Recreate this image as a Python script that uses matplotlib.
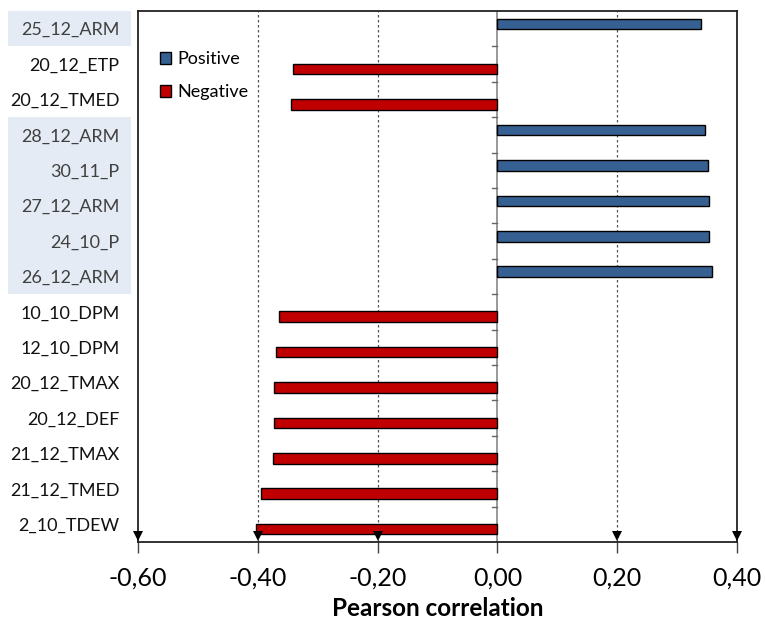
import matplotlib
matplotlib.use("Agg")
import matplotlib.pyplot as plt
from matplotlib.patches import Rectangle, Patch
import numpy as np

categories = ["25_12_ARM", "20_12_ETP", "20_12_TMED", "28_12_ARM", "30_11_P",
              "27_12_ARM", "24_10_P", "26_12_ARM", "10_10_DPM", "12_10_DPM",
              "20_12_TMAX", "20_12_DEF", "21_12_TMAX", "21_12_TMED", "2_10_TDEW"]
values = [0.340, -0.342, -0.344, 0.347, 0.351, 0.353, 0.354, 0.358,
          -0.365, -0.370, -0.373, -0.373, -0.374, -0.394, -0.403]
xticks = [-0.6, -0.4, -0.2, 0.0, 0.2, 0.4]
xtick_labels = ["-0,60", "-0,40", "-0,20", "0,00", "0,20", "0,40"]

BLUE = "#376092"
RED = "#C00000"
FONT = ["Lato", "DejaVu Sans"]
plt.rcParams["font.family"] = FONT

fig = plt.figure(figsize=(7.65, 6.3), dpi=100)
ax = fig.add_axes([138/765, 1-542/630, (737-138)/765, (542-11)/630])

n = len(categories)
h = 0.30
off = 0.135
for i, v in enumerate(values):
    if v > 0:
        ax.barh(i - off, v, height=h, color=BLUE, edgecolor="black", linewidth=1.0, zorder=3)
    else:
        ax.barh(i + off, v, height=h, color=RED, edgecolor="black", linewidth=1.0, zorder=3)

ax.set_xlim(-0.6, 0.4)
ax.set_ylim(n - 0.5, -0.5)

for xv in [-0.4, -0.2, 0.2]:
    ax.axvline(xv, color="#555555", linestyle=(0, (2, 2)), linewidth=0.9, zorder=1)
ax.axvline(0, color="#888888", linewidth=1.2, zorder=2)
for b in np.arange(0.5, n - 0.5, 1.0):
    ax.plot([-0.009, 0], [b, b], color="#666666", linewidth=1.0, zorder=2)

for s in ["top", "right", "left", "bottom"]:
    ax.spines[s].set_color("#222222")
    ax.spines[s].set_linewidth(1.3)

ax.set_yticks([])
ax.set_xticks(xticks)
ax.set_xticklabels(xtick_labels, fontsize=18)
ax.tick_params(axis="x", length=8, width=1.0, color="#444444", pad=10, direction="out")

tri_x = [-0.6, -0.4, -0.2, 0.2, 0.4]
ax.plot(tri_x, [n - 0.5 - 0.16] * len(tri_x), linestyle="none", marker="v", markersize=7,
        color="black", clip_on=False, zorder=5, markeredgewidth=0)

ax.set_xlabel("Pearson correlation", fontsize=17.5, fontweight="bold", labelpad=5)

for i, (c, v) in enumerate(zip(categories, values)):
    col = "#404040" if v > 0 else "#111111"
    ax.text(-0.631, i + 0.04, c, ha="right", va="center", fontsize=13, color=col,
            clip_on=False, zorder=10)

def shade(i0, i1):
    x0 = 8 / 765
    w = (131 - 8) / 765
    y_top = ax.transData.transform((0, i0 - 0.5))[1] / fig.bbox.height
    y_bot = ax.transData.transform((0, i1 + 0.5))[1] / fig.bbox.height
    fig.patches.append(Rectangle((x0, y_bot), w, y_top - y_bot, transform=fig.transFigure,
                                 facecolor="#E4EBF4", edgecolor="none", zorder=-5))

shade(0, 0)
shade(3, 7)

handles = [Patch(facecolor=BLUE, edgecolor="black", label="Positive"),
           Patch(facecolor=RED, edgecolor="black", label="Negative")]
leg = ax.legend(handles=handles, loc="upper left", bbox_to_anchor=(0.01, 0.955),
                frameon=False, fontsize=13, handlelength=0.6, handleheight=0.6,
                handletextpad=0.35, labelspacing=0.95)

fig.savefig("out.png", dpi=100)
